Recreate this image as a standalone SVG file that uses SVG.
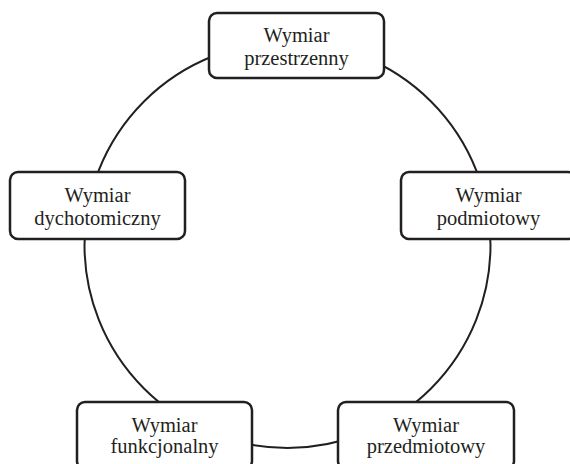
<svg xmlns="http://www.w3.org/2000/svg" width="570" height="464" viewBox="0 0 570 464">
<style>
.box{fill:#fff;stroke:#231f20;stroke-width:2.5}
.con{fill:none;stroke:#231f20;stroke-width:2}
text{font-family:"Liberation Serif","Times New Roman",serif;font-size:20.5px;fill:#231f20;text-anchor:middle}
</style>
<rect width="570" height="464" fill="#fff"/>
<g id="connectors">
<ellipse class="con" cx="287.5" cy="245" rx="203" ry="203"/>
</g>
<g id="n-przestrzenny">
<rect class="box" x="209" y="13" width="175" height="65" rx="8"/>
<text x="296.5" y="42">Wymiar</text>
<text x="296.5" y="65">przestrzenny</text>
</g>
<g id="n-dychotomiczny">
<rect class="box" x="10" y="172" width="175" height="67" rx="8"/>
<text x="97.5" y="202">Wymiar</text>
<text x="97.5" y="225">dychotomiczny</text>
</g>
<g id="n-podmiotowy">
<rect class="box" x="401" y="172" width="175" height="67" rx="8"/>
<text x="488.5" y="202">Wymiar</text>
<text x="488.5" y="225">podmiotowy</text>
</g>
<g id="n-funkcjonalny">
<rect class="box" x="77" y="402" width="175" height="67" rx="8"/>
<text x="164.5" y="432">Wymiar</text>
<text x="164.5" y="453">funkcjonalny</text>
</g>
<g id="n-przedmiotowy">
<rect class="box" x="338" y="402" width="176" height="67" rx="8"/>
<text x="426" y="432">Wymiar</text>
<text x="426" y="453">przedmiotowy</text>
</g>
</svg>
